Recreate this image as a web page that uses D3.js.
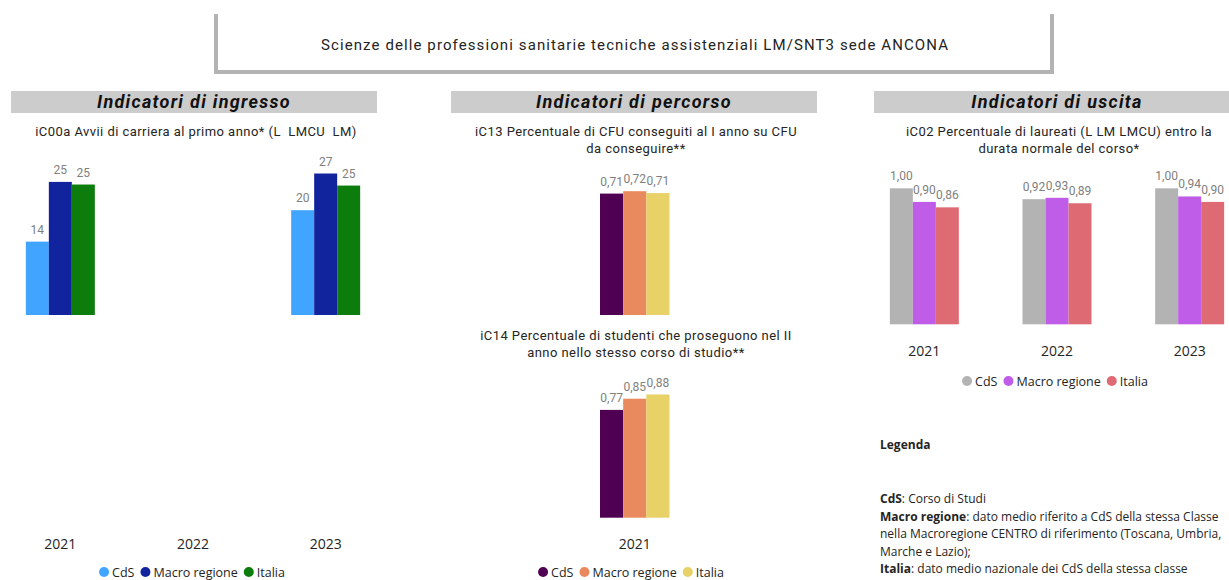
<!DOCTYPE html>
<html>
<head>
<meta charset="utf-8">
<script src="https://cdn.jsdelivr.net/npm/d3@7"></script>
<style>
  body { margin: 0; background: #fff; }
  svg { display: block; }
  text { white-space: pre; }
</style>
</head>
<body>
<div id="chart"></div>
<script>
// data
const years = ["2021", "2022", "2023"];
const yearsC14 = ["2021"];
const seriesNames = ["CdS", "Macro regione", "Italia"];

// iC00a Avvii di carriera (2022 empty)
const ic00aCdS = [14, null, 20];
const ic00aMacro = [25.4, null, 27];
const ic00aItalia = [24.9, null, 24.7];

// iC13
const ic13CdS = [0.71];
const ic13Macro = [0.724];
const ic13Italia = [0.713];

// iC14
const ic14CdS = [0.77];
const ic14Macro = [0.85];
const ic14Italia = [0.88];

// iC02
const ic02CdS = [1.00, 0.92, 1.00];
const ic02Macro = [0.90, 0.93, 0.94];
const ic02Italia = [0.86, 0.89, 0.90];

const colorsIngresso = ["#41A4FF", "#12239E", "#0C7D0C"];
const colorsPercorso = ["#4F0052", "#E98A5E", "#E8D166"];
const colorsUscita = ["#B3B3B3", "#BF5CE8", "#DE6A73"];

const width = 1229, height = 580;
const dinFont = "Roboto, 'DejaVu Sans Condensed', sans-serif";
const uiFont = "'Open Sans', 'Noto Sans', sans-serif";
const textColor = "#252423";

const itFmt = d3.formatLocale({ decimal: ",", thousands: ".", grouping: [3], currency: ["", "€"] });
const fmt2 = itFmt.format(".2f");
const fmt0 = itFmt.format(".0f");

const svg = d3.select("#chart").append("svg")
    .attr("width", width)
    .attr("height", height);

// title box (open at top)
svg.append("path")
    .attr("d", "M216,14 V72 H1052 V14")
    .attr("fill", "none")
    .attr("stroke", "#B3B3B3")
    .attr("stroke-width", 4);

svg.append("text")
    .attr("x", 635)
    .attr("y", 50)
    .attr("text-anchor", "middle")
    .attr("font-family", dinFont)
    .attr("font-size", "15px")
    .attr("letter-spacing", "1.1px")
    .attr("fill", textColor)
    .text("Scienze delle professioni sanitarie tecniche assistenziali LM/SNT3 sede ANCONA");

// section headers
const headers = [
    { label: "Indicatori di ingresso", x: 11 },
    { label: "Indicatori di percorso", x: 451 },
    { label: "Indicatori di uscita", x: 874 }
];
headers.forEach(h => {
    svg.append("rect")
        .attr("x", h.x).attr("y", 91)
        .attr("width", 366).attr("height", 22)
        .attr("fill", "#CCCCCC");
    svg.append("text")
        .attr("x", h.x + 183).attr("y", 108)
        .attr("text-anchor", "middle")
        .attr("font-family", dinFont)
        .attr("font-size", "18px")
        .attr("letter-spacing", "1.3px")
        .attr("font-weight", "bold")
        .attr("font-style", "italic")
        .attr("fill", "#111")
        .text(h.label);
});

function chartTitle(lines, cx, y0) {
    lines.forEach((l, i) => {
        svg.append("text")
            .attr("x", cx)
            .attr("y", y0 + i * 16.5)
            .attr("text-anchor", "middle")
            .attr("font-family", dinFont)
            .attr("font-size", "13px")
            .attr("letter-spacing", "0.45px")
            .attr("fill", textColor)
            .text(l);
    });
}

// grouped bars
function groupedBars(cfg) {
    const g = svg.append("g");
    const x = d3.scaleBand()
        .domain(cfg.cats)
        .range(cfg.xRange)
        .paddingInner(cfg.padIn)
        .paddingOuter(cfg.padOut);
    const xs = d3.scaleBand()
        .domain(seriesNames)
        .range([0, x.bandwidth()]);
    const y = d3.scaleLinear()
        .domain(cfg.yDomain)
        .range(cfg.yRange);

    const rows = [];
    cfg.cats.forEach((c, i) => {
        cfg.values.forEach((vals, s) => {
            if (vals[i] != null) rows.push({ cat: c, s: seriesNames[s], v: vals[i], color: cfg.colors[s] });
        });
    });

    g.selectAll("rect.bar")
        .data(rows)
        .join("rect")
        .attr("class", "bar")
        .attr("x", d => x(d.cat) + xs(d.s))
        .attr("y", d => y(d.v))
        .attr("width", xs.bandwidth())
        .attr("height", d => y(0) - y(d.v))
        .attr("fill", d => d.color);

    g.selectAll("text.lbl")
        .data(rows)
        .join("text")
        .attr("class", "lbl")
        .attr("x", d => x(d.cat) + xs(d.s) + xs.bandwidth() / 2)
        .attr("y", d => y(d.v) - 8)
        .attr("text-anchor", "middle")
        .attr("font-family", dinFont)
        .attr("font-size", "12px")
        .attr("fill", "#808080")
        .text(d => cfg.fmt(d.v));

    // iC13 has no year label in the original
    if (cfg.axisY == null) return;
    const axis = g.append("g")
        .attr("transform", `translate(0,${cfg.axisY})`)
        .call(d3.axisBottom(x).tickSize(0).tickPadding(0));
    axis.select(".domain").remove();
    axis.selectAll("text")
        .attr("font-family", uiFont)
        .attr("font-size", "14px")
        .attr("fill", textColor);
}

function legend(colors, cx, cy) {
    const g = svg.append("g");
    let pos = 0;
    seriesNames.forEach((name, i) => {
        g.append("circle")
            .attr("cx", pos + 5).attr("cy", cy)
            .attr("r", 5)
            .attr("fill", colors[i]);
        const t = g.append("text")
            .attr("x", pos + 13).attr("y", cy + 4.5)
            .attr("font-family", uiFont)
            .attr("font-size", "12.5px")
            .attr("fill", textColor)
            .text(name);
        pos += 13 + t.node().getComputedTextLength() + 6;
    });
    g.attr("transform", `translate(${cx - (pos - 6) / 2},0)`);
}

// Indicatori di ingresso
chartTitle(["iC00a Avvii di carriera al primo anno* (L  LMCU  LM)"], 196, 136);
groupedBars({
    cats: years, xRange: [-6, 392], padIn: 0.48, padOut: 0.24,
    values: [ic00aCdS, ic00aMacro, ic00aItalia], colors: colorsIngresso,
    yDomain: [0, 30], yRange: [315, 157.8], fmt: fmt0, axisY: 539
});
legend(colorsIngresso, 192, 572);

// Indicatori di percorso
chartTitle(["iC13 Percentuale di CFU conseguiti al I anno su CFU", "da conseguire**"], 636, 136);
groupedBars({
    cats: yearsC14, xRange: [600, 669.5], padIn: 0, padOut: 0,
    values: [ic13CdS, ic13Macro, ic13Italia], colors: colorsPercorso,
    yDomain: [0, 0.8], yRange: [315, 178.2], fmt: fmt2, axisY: null
});
chartTitle(["iC14 Percentuale di studenti che proseguono nel II", "anno nello stesso corso di studio**"], 636, 340);
groupedBars({
    cats: yearsC14, xRange: [600, 669.5], padIn: 0, padOut: 0,
    values: [ic14CdS, ic14Macro, ic14Italia], colors: colorsPercorso,
    yDomain: [0, 1], yRange: [517.7, 377.7], fmt: fmt2, axisY: 539
});
legend(colorsPercorso, 631, 572);

// Indicatori di uscita
chartTitle(["iC02 Percentuale di laureati (L LM LMCU) entro la", "durata normale del corso*"], 1059, 136);
groupedBars({
    cats: years, xRange: [858, 1256], padIn: 0.48, padOut: 0.24,
    values: [ic02CdS, ic02Macro, ic02Italia], colors: colorsUscita,
    yDomain: [0, 1], yRange: [324.3, 188.3], fmt: fmt2, axisY: 345.7
});
legend(colorsUscita, 1055, 381);

// Legenda
const legendaLines = [
    [["Legenda", true]],
    null,
    [["CdS", true], [": Corso di Studi", false]],
    [["Macro regione", true], [": dato medio riferito a CdS della stessa Classe", false]],
    [["nella Macroregione CENTRO di riferimento (Toscana, Umbria,", false]],
    [["Marche e Lazio);", false]],
    [["Italia", true], [": dato medio nazionale dei CdS della stessa classe", false]]
];
const legendaY = [449, 0, 503, 520.5, 538, 555.5, 573];
legendaLines.forEach((line, i) => {
    if (!line) return;
    const t = svg.append("text")
        .attr("x", 880)
        .attr("y", legendaY[i])
        .attr("font-family", uiFont)
        .attr("font-size", "12px")
        .attr("fill", textColor);
    line.forEach(([s, b]) => {
        t.append("tspan")
            .attr("font-weight", b ? "bold" : "normal")
            .text(s);
    });
});
</script>
</body>
</html>
